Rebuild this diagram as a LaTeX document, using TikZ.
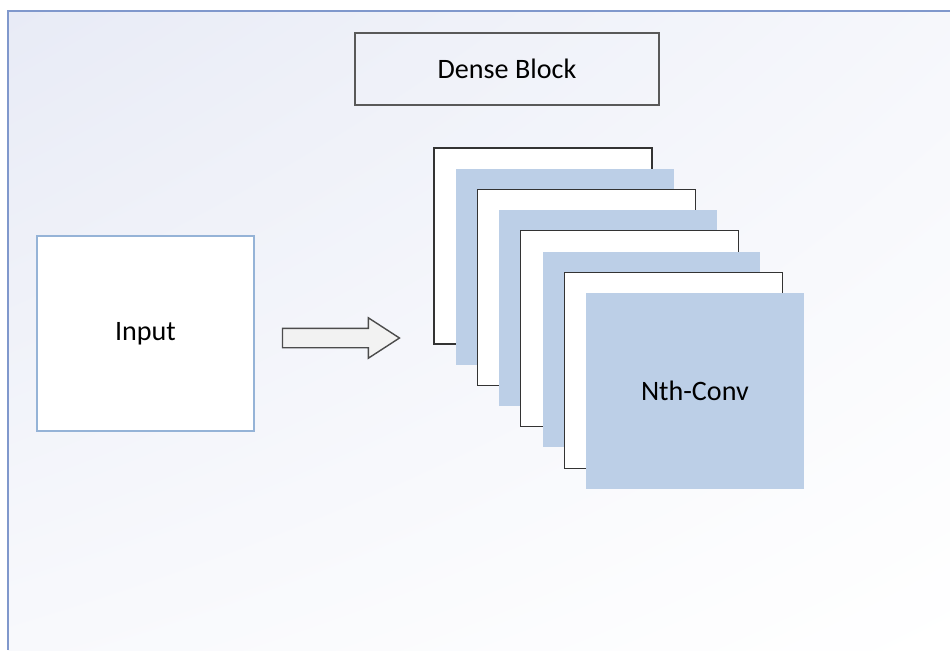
\documentclass[tikz,border=0pt]{standalone}
\usepackage{fontspec}
\setmainfont{Carlito}
\usetikzlibrary{shapes.arrows,shadings}

\definecolor{framecol}{RGB}{128,152,204}
\definecolor{convblue}{RGB}{188,207,231}
\definecolor{inputline}{RGB}{149,179,215}
\definecolor{bgtint}{RGB}{232,235,246}
\definecolor{arrfill}{RGB}{242,242,242}

\begin{document}
\begin{tikzpicture}[x=0.02cm, y=-0.02cm,
  lbl/.style={font=\fontsize{16}{19}\selectfont},
  layw/.style={draw=black!80, line width=0.7pt, fill=white, inner sep=0pt,
    minimum width=4.36cm, minimum height=3.92cm},
  layb/.style={fill=convblue, inner sep=0pt,
    minimum width=4.36cm, minimum height=3.92cm},
  blockarr/.style={single arrow, draw=black!70, line width=0.8pt, fill=arrfill,
    inner xsep=0pt, inner ysep=0.18cm, minimum height=2.34cm,
    single arrow head extend=0.21cm, single arrow tip angle=66}
]
  \useasboundingbox (0,0) rectangle (950,650);

  % Background window with tint
  \shade[upper left=bgtint, upper right=bgtint!40, lower left=bgtint!30, lower right=white]
    (8,11) rectangle (950,650);
  \draw[framecol, line width=1.3pt] (8,650) -- (8,11) -- (950,11);

  % Title
  \node[draw=black!65, line width=0.8pt, minimum width=6.08cm, minimum height=1.44cm, lbl]
    at (507,69) (dense) {Dense Block};

  % Input
  \node[draw=inputline, line width=0.7pt, fill=white, minimum width=4.34cm, minimum height=3.9cm, lbl]
    at (145.5,333.5) (input) {Input};

  % Block arrow
  \node[blockarr] at (333.5,338) (arr) {};

  % Stack of conv layers
  \foreach \i/\st in {0/layw,1/layb,2/layw,3/layb,4/layw,5/layb,6/layw,7/layb}
    \node[\st] at (543+21.7*\i, 246+20.7*\i) (conv\i) {};
  \node[lbl] at (conv7) {Nth-Conv};

\end{tikzpicture}
\end{document}
